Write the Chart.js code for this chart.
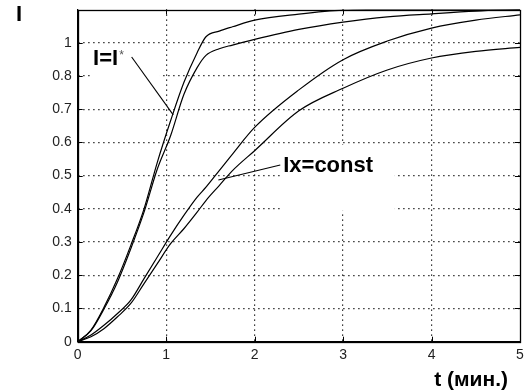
<!DOCTYPE html>
<html>
<head>
<meta charset="utf-8">
<script src="https://cdn.jsdelivr.net/npm/chart.js@4/dist/chart.umd.min.js"></script>
<style>
  html, body { margin: 0; padding: 0; background: #fff; }
  #wrap { width: 527px; height: 391px; position: relative; }
</style>
</head>
<body>
<div id="wrap"><canvas id="c" width="527" height="391"></canvas></div>
<script>
// ---- data ----
const times = [0, 0.15, 0.3, 0.45, 0.6, 0.75, 0.9, 1.05, 1.2, 1.35, 1.45, 1.6, 1.75, 2, 2.5, 3, 3.5, 4, 4.5, 5];
const curveFastUpper = [0, 0.035, 0.105, 0.19, 0.29, 0.40, 0.54, 0.665, 0.78, 0.87, 0.918, 0.935, 0.948, 0.968, 0.986, 0.998, 1.0, 1.0, 1.0, 1.0];
const curveFastLower = [0, 0.033, 0.10, 0.18, 0.28, 0.39, 0.52, 0.62, 0.744, 0.825, 0.862, 0.882, 0.893, 0.91, 0.94, 0.962, 0.978, 0.987, 0.995, 1.0];
const curveConstUpper = [0, 0.02, 0.05, 0.085, 0.125, 0.19, 0.255, 0.32, 0.38, 0.435, 0.465, 0.515, 0.565, 0.645, 0.758, 0.849, 0.905, 0.944, 0.968, 0.984];
const curveConstLower = [0, 0.015, 0.04, 0.075, 0.115, 0.175, 0.235, 0.295, 0.34, 0.39, 0.425, 0.47, 0.515, 0.575, 0.695, 0.763, 0.818, 0.854, 0.874, 0.886];
const xTicks = [0, 1, 2, 3, 4, 5];
const yTickLabels = {0: '0', 1: '0.1', 2: '0.2', 3: '0.3', 4: '0.4', 5: '0.5', 6: '0.6', 7: '0.7', 8: '0.8', 9: '1'};
const yAxisTitle = 'I';
const xAxisTitle = 't (мин.)';
const labelFast = 'I=I';
const labelFastSup = '*';
const labelConst = 'Ix=const';

// annotation anchors in data units
const fastLabelPos = {t: 0.174, v: 0.833};
const fastPointer = [{t: 0.61, v: 0.857}, {t: 1.08, v: 0.683}];
const fastMask = {t0: 0.139, t1: 0.93, v0: 0.788, v1: 0.891};
const constLabelPos = {t: 2.323, v: 0.512};
const constPointer = [{t: 2.29, v: 0.532}, {t: 1.59, v: 0.487}];
const constMask = {t0: 2.30, t1: 3.585, v0: 0.394, v1: 0.5925};

function toXY(vals) { return times.map((t, i) => ({x: t, y: vals[i]})); }
const lineStyle = {borderColor: '#000', borderWidth: 1.2, pointRadius: 0, showLine: true, fill: false, cubicInterpolationMode: 'monotone'};

const annot = {
  id: 'annot',
  beforeDatasetsDraw(chart) {
    const {ctx, scales: {x, y}, chartArea: a} = chart;
    ctx.save();
    ctx.fillStyle = '#fff';
    [fastMask, constMask].forEach(m => {
      const x0 = x.getPixelForValue(m.t0), x1 = x.getPixelForValue(m.t1);
      const y0 = y.getPixelForValue(m.v1), y1 = y.getPixelForValue(m.v0);
      ctx.fillRect(x0, y0, x1 - x0, y1 - y0);
    });
    // inward tick marks on all four sides
    ctx.strokeStyle = '#000';
    ctx.lineWidth = 1;
    ctx.beginPath();
    for (let k = 1; k <= 9; k++) {
      const py = Math.round(y.getPixelForValue(k / 10)) + 0.5;
      ctx.moveTo(a.left, py); ctx.lineTo(a.left + 5, py);
      ctx.moveTo(a.right, py); ctx.lineTo(a.right - 5, py);
    }
    xTicks.slice(1, -1).forEach(t => {
      const px = Math.round(x.getPixelForValue(t)) + 0.5;
      ctx.moveTo(px, a.bottom); ctx.lineTo(px, a.bottom - 5);
      ctx.moveTo(px, a.top); ctx.lineTo(px, a.top + 5);
    });
    ctx.stroke();
    ctx.restore();
  },
  afterDraw(chart) {
    const {ctx, scales: {x, y}, chartArea: a} = chart;
    ctx.save();
    // frame
    ctx.strokeStyle = '#000';
    ctx.lineWidth = 1.3;
    ctx.strokeRect(Math.round(a.left) + 0.5, Math.round(a.top) + 0.5, Math.round(a.right - a.left), Math.round(a.bottom - a.top));
    // pointers
    ctx.lineWidth = 1.1;
    [fastPointer, constPointer].forEach(p => {
      ctx.beginPath();
      ctx.moveTo(x.getPixelForValue(p[0].t), y.getPixelForValue(p[0].v));
      ctx.lineTo(x.getPixelForValue(p[1].t), y.getPixelForValue(p[1].v));
      ctx.stroke();
    });
    // labels
    ctx.fillStyle = '#000';
    ctx.textBaseline = 'alphabetic';
    ctx.textAlign = 'left';
    ctx.font = 'bold 22px "Liberation Sans", Arial, sans-serif';
    const fx = x.getPixelForValue(fastLabelPos.t), fy = y.getPixelForValue(fastLabelPos.v);
    ctx.fillText(labelFast, fx, fy);
    const fw = ctx.measureText(labelFast).width;
    ctx.font = '12px "Liberation Sans", Arial, sans-serif';
    ctx.fillStyle = '#555';
    ctx.fillText(labelFastSup, fx + fw + 1, fy - 6);
    ctx.fillStyle = '#000';
    ctx.font = 'bold 22px "Liberation Sans", Arial, sans-serif';
    ctx.fillText(labelConst, x.getPixelForValue(constLabelPos.t), y.getPixelForValue(constLabelPos.v));
    // axis titles
    ctx.font = 'bold 22px "Liberation Sans", Arial, sans-serif';
    ctx.fillText(yAxisTitle, 16, 21);
    ctx.font = 'bold 21px "Liberation Sans", Arial, sans-serif';
    ctx.textAlign = 'right';
    ctx.fillText(xAxisTitle, 508, 386);
    ctx.restore();
  }
};

const edgeTransparent = (ctx) => (ctx.tick && (ctx.index === 0 || ctx.tick.value === 5)) ? 'rgba(0,0,0,0)' : '#000';

new Chart(document.getElementById('c'), {
  type: 'scatter',
  data: {
    datasets: [
      Object.assign({data: toXY(curveFastUpper)}, lineStyle),
      Object.assign({data: toXY(curveFastLower)}, lineStyle),
      Object.assign({data: toXY(curveConstUpper)}, lineStyle),
      Object.assign({data: toXY(curveConstLower)}, lineStyle)
    ]
  },
  plugins: [annot],
  options: {
    responsive: false,
    animation: false,
    devicePixelRatio: 1,
    layout: {padding: {top: 9.5, right: 7, left: 0, bottom: 0}},
    plugins: {legend: {display: false}, tooltip: {enabled: false}},
    scales: {
      x: {
        type: 'linear', min: 0, max: 5,
        afterBuildTicks: s => { s.ticks = xTicks.map(v => ({value: v})); },
        afterFit: s => { s.height = 49.3; s.paddingLeft = 0; s.paddingRight = 0; },
        ticks: {color: '#222', font: {family: '"Liberation Sans", Arial, sans-serif', size: 14}, padding: 5, maxRotation: 0,
                callback: v => String(v)},
        grid: {color: edgeTransparent, lineWidth: 1.2, drawTicks: false, tickLength: 0},
        border: {display: true, color: '#000', width: 1.3, dash: [1.2, 3.8], dashOffset: 0}
      },
      y: {
        type: 'linear', min: 0, max: 1,
        afterBuildTicks: s => { s.ticks = Object.keys(yTickLabels).map(k => ({value: Number(k) / 10})); },
        afterFit: s => { s.width = 77.7; s.paddingTop = 0; s.paddingBottom = 0; },
        ticks: {color: '#222', font: {family: '"Liberation Sans", Arial, sans-serif', size: 14}, padding: 6,
                callback: v => yTickLabels[Math.round(v * 10)]},
        grid: {color: edgeTransparent, lineWidth: 1.2, drawTicks: false, tickLength: 0},
        border: {display: true, color: '#000', width: 1.3, dash: [1.2, 3.8]}
      }
    }
  }
});
</script>
</body>
</html>
